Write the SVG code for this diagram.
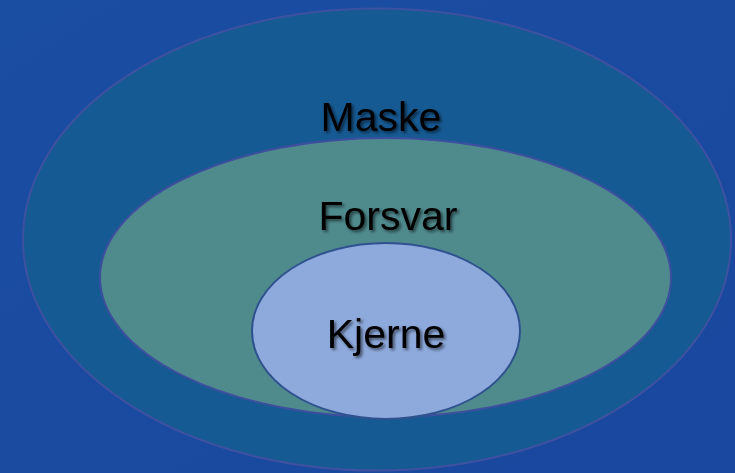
<svg xmlns="http://www.w3.org/2000/svg" width="735" height="473" viewBox="0 0 735 473">
  <defs>
    <linearGradient id="bg" x1="0" y1="0" x2="1" y2="1">
      <stop offset="0" stop-color="#1a4ea2"/>
      <stop offset="1" stop-color="#1a479f"/>
    </linearGradient>
    <filter id="shadow" x="-10%" y="-20%" width="130%" height="150%">
      <feDropShadow dx="2" dy="2" stdDeviation="1.5" flood-color="#000" flood-opacity="0.55"/>
    </filter>
  </defs>
  <style>
    .ring { stroke-width: 2; }
    .label { font-family: "Liberation Sans", Arial, sans-serif; font-size: 41px; fill: #000; text-anchor: middle; filter: url(#shadow); }
  </style>

  <!-- backdrop -->
  <rect x="0" y="0" width="735" height="473" fill="url(#bg)"/>

  <!-- outer layer -->
  <g id="maske">
    <ellipse class="ring" cx="377" cy="239.5" rx="354" ry="231" fill="#165a93" stroke="#3e51a0"/>
    <text class="label" x="381" y="131">Maske</text>
  </g>

  <!-- middle layer -->
  <g id="forsvar">
    <ellipse class="ring" cx="385.5" cy="277.5" rx="285.5" ry="139.5" fill="#4f8a8d" stroke="#3d4f9e"/>
    <text class="label" x="388" y="230">Forsvar</text>
  </g>

  <!-- inner core -->
  <g id="kjerne">
    <ellipse class="ring" cx="386" cy="331" rx="134" ry="88" fill="#8eaadc" stroke="#2f528f"/>
    <text class="label" x="386" y="348">Kjerne</text>
  </g>

  <g id="connectors"/>
</svg>
